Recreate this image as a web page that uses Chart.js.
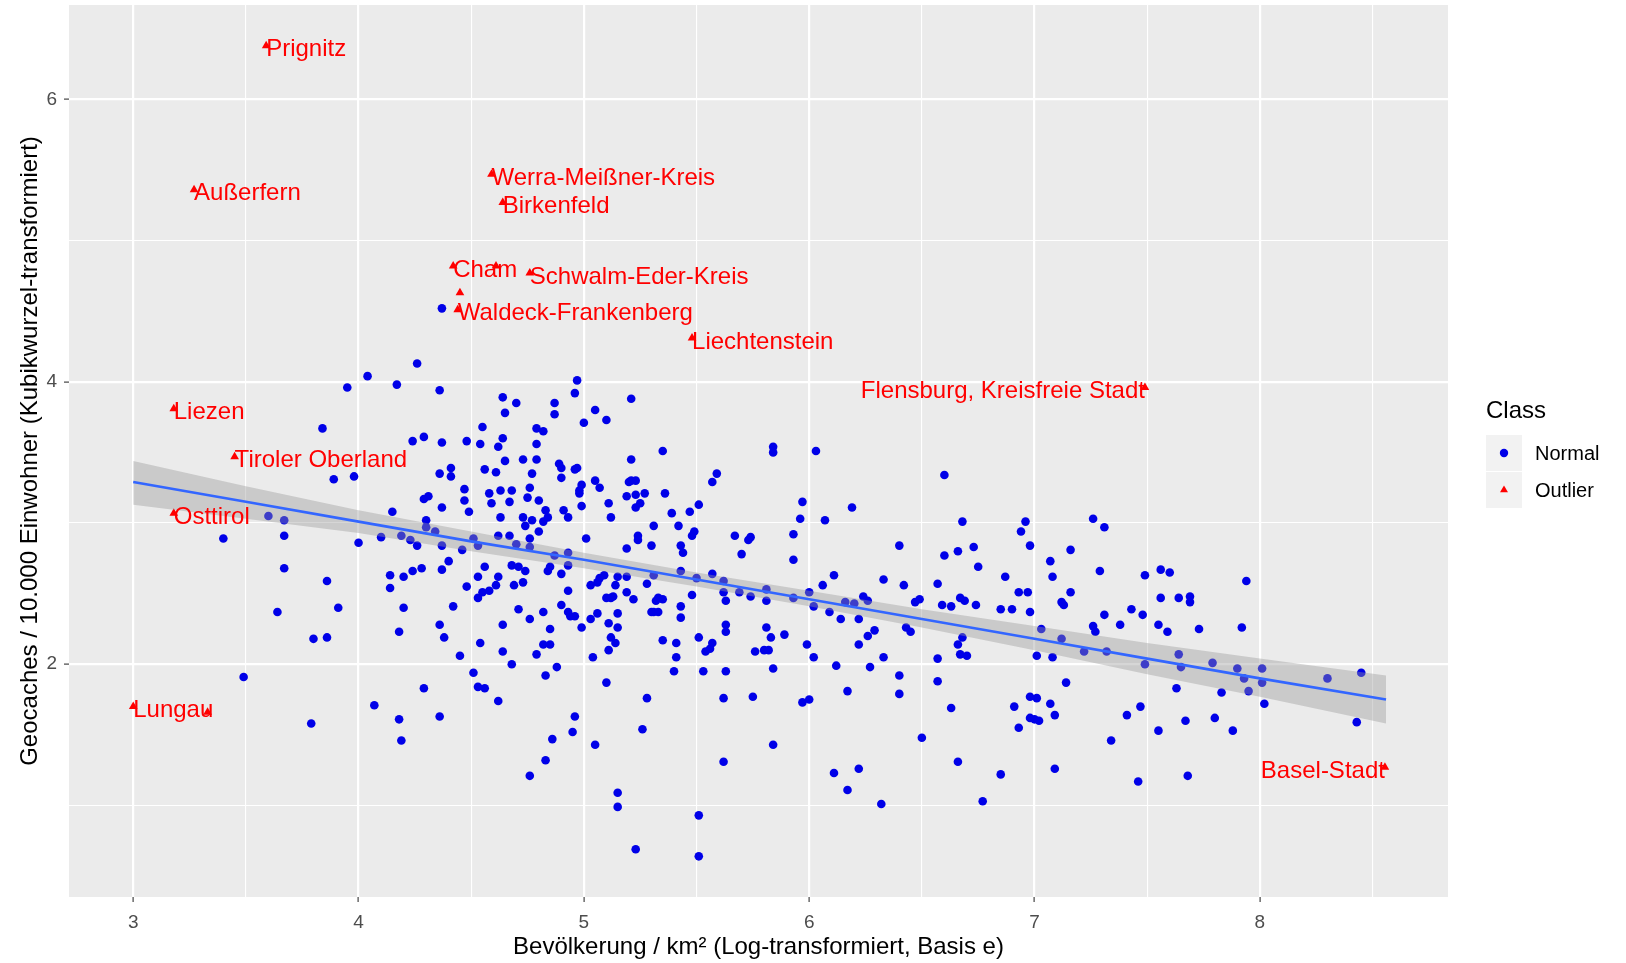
<!DOCTYPE html>
<html>
<head>
<meta charset="utf-8">
<script src="https://cdn.jsdelivr.net/npm/chart.js@4.4.1/dist/chart.umd.min.js"></script>
<style>
html,body{margin:0;padding:0;background:#ffffff;}
canvas{display:block;}
</style>
</head>
<body>
<canvas id="c" width="1626" height="963"></canvas>
<script>
// ---------- data ----------
const normalXY = [
[4.26,4.13],[4.04,4.04],[3.95,3.96],[4.17,3.98],[4.36,3.94],[3.84,3.67],[4.55,3.68],[4.24,3.58],[4.29,3.61],[4.37,3.57],
[4.48,3.58],[4.54,3.56],[4.62,3.54],[4.41,3.39],[4.41,3.33],[4.36,3.35],[4.56,3.38],[4.61,3.36],[3.89,3.31],[3.98,3.33],
[4.47,3.24],[4.58,3.21],[4.63,3.23],[4.29,3.17],[4.31,3.19],[4.47,3.16],[4.59,3.14],[4.37,3.11],[4.49,3.08],[4.15,3.08],
[4.63,3.04],[3.60,3.05],[3.67,3.02],[3.67,2.91],[3.40,2.89],[4.00,2.86],[4.10,2.90],[4.19,2.91],[4.23,2.88],[4.26,2.84],
[4.30,3.02],[4.30,2.97],[4.34,2.94],[4.37,2.84],[4.46,2.81],[4.51,2.89],[4.53,2.84],[4.62,2.91],[3.67,2.68],[3.86,2.59],
[4.14,2.63],[4.20,2.62],[4.24,2.66],[4.28,2.68],[4.37,2.67],[4.40,2.73],[4.14,2.54],[4.56,2.69],[4.53,2.62],[4.48,2.55],
[4.62,2.62],[4.61,2.56],[4.58,2.52],[4.55,2.51],[4.53,2.47],[3.64,2.37],[3.91,2.40],[4.20,2.40],[4.42,2.41],[3.80,2.18],
[3.86,2.19],[4.18,2.23],[4.36,2.28],[4.38,2.19],[4.54,2.15],[4.45,2.06],[3.49,1.91],[4.29,1.83],[4.51,1.94],[4.53,1.84],
[4.56,1.83],[4.62,1.74],[4.07,1.71],[3.79,1.58],[4.18,1.61],[4.36,1.63],[4.19,1.46],[4.37,4.52],
[4.97,4.01],[4.96,3.92],[5.21,3.88],[4.64,3.89],[4.70,3.85],[4.87,3.85],[4.87,3.77],[4.65,3.78],[5.05,3.80],[5.00,3.71],
[5.10,3.73],[4.79,3.67],[4.82,3.65],[4.64,3.60],[4.79,3.56],[5.35,3.51],[4.65,3.44],[4.73,3.45],[4.79,3.45],[5.21,3.45],
[4.89,3.42],[4.90,3.39],[4.90,3.32],[4.77,3.35],[4.97,3.39],[4.96,3.38],[5.05,3.30],[5.07,3.25],[4.99,3.27],[4.98,3.23],
[4.98,3.21],[4.68,3.23],[4.76,3.25],[4.75,3.18],[4.80,3.16],[4.67,3.15],[5.21,3.30],[5.23,3.30],[5.20,3.29],[5.19,3.19],
[5.23,3.20],[5.27,3.21],[5.36,3.21],[4.99,3.12],[5.11,3.14],[5.25,3.14],[5.23,3.11],[5.59,3.35],[5.57,3.29],[5.51,3.13],
[5.47,3.08],[5.39,3.07],[4.83,3.09],[4.91,3.09],[4.93,3.04],[4.84,3.04],[4.73,3.04],[4.77,3.02],[4.74,2.98],[4.82,3.01],
[4.80,2.94],[5.12,3.04],[5.31,2.98],[5.42,2.98],[4.67,2.91],[4.76,2.89],[5.01,2.89],[5.24,2.91],[5.24,2.88],[5.19,2.82],
[5.30,2.84],[5.48,2.91],[5.49,2.94],[5.43,2.84],[5.44,2.79],[4.70,2.85],[4.76,2.83],[4.87,2.77],[4.93,2.79],[4.93,2.70],
[4.85,2.69],[4.84,2.66],[4.90,2.64],[4.68,2.70],[4.71,2.69],[4.74,2.66],[4.69,2.56],[4.73,2.58],[5.03,2.56],[5.06,2.58],
[5.07,2.61],[5.09,2.63],[5.15,2.62],[5.19,2.62],[5.14,2.56],[4.93,2.52],[4.90,2.42],[4.93,2.37],[4.94,2.34],[4.96,2.34],
[4.99,2.26],[5.03,2.32],[5.06,2.36],[5.10,2.47],[5.12,2.47],[5.13,2.48],[5.19,2.51],[5.22,2.46],[5.15,2.36],[5.11,2.29],
[5.15,2.26],[5.12,2.19],[5.14,2.15],[5.11,2.10],[5.04,2.05],[4.82,2.37],[4.71,2.39],[4.76,2.32],[4.85,2.25],[4.82,2.14],
[4.85,2.14],[4.79,2.07],[4.64,2.09],[4.68,2.00],[4.64,2.28],[4.83,1.92],[4.88,1.98],[5.10,1.87],[5.28,2.57],[5.31,2.63],
[5.32,2.45],[5.33,2.47],[5.35,2.46],[5.30,2.37],[5.31,2.37],[5.33,2.37],[5.43,2.66],[5.43,2.41],[5.43,2.33],[5.50,2.61],
[5.48,2.49],[5.57,2.64],[5.62,2.59],[5.62,2.51],[5.63,2.45],[5.69,2.51],[5.74,2.48],[5.67,2.91],[5.73,2.88],[5.74,2.90],
[5.70,2.78],[5.84,3.54],[5.84,3.50],[6.03,3.51],[5.97,3.15],[5.96,3.03],[6.07,3.02],[5.93,2.92],[5.93,2.74],[6.19,3.11],
[6.11,2.63],[6.06,2.56],[6.00,2.51],[6.02,2.41],[6.09,2.37],[6.14,2.32],[6.16,2.44],[6.20,2.43],[6.22,2.32],[6.24,2.48],
[6.26,2.45],[5.93,2.47],[5.81,2.53],[5.81,2.45],[5.81,2.26],[5.83,2.19],[5.89,2.21],[5.63,2.28],[5.63,2.23],[5.51,2.19],
[5.54,2.09],[5.56,2.11],[5.57,2.15],[5.41,2.15],[5.41,2.05],[5.35,2.17],[5.40,1.95],[5.53,1.95],[5.63,1.95],[5.76,2.09],
[5.80,2.10],[5.82,2.10],[5.84,1.97],[5.99,2.14],[6.02,2.05],[6.12,1.99],[6.22,2.14],[6.26,2.20],[6.29,2.24],[6.27,1.98],
[5.28,1.76],[5.26,1.54],[5.62,1.76],[5.75,1.77],[5.97,1.73],[6.00,1.75],[6.17,1.81],[4.96,1.63],[4.95,1.52],[4.86,1.47],
[5.05,1.43],[4.83,1.32],[4.76,1.21],[5.15,1.09],[5.15,0.99],[5.23,0.69],[5.51,0.93],[5.51,0.64],[5.62,1.31],[5.84,1.43],
[6.11,1.23],[6.22,1.26],[6.17,1.11],[6.32,1.01],
[6.60,3.34],[6.68,3.01],[6.94,2.94],[6.96,3.01],[6.98,2.84],[7.26,3.03],[7.31,2.97],[6.40,2.84],[6.60,2.77],[6.66,2.80],
[6.73,2.83],[6.75,2.69],[7.16,2.81],[7.07,2.73],[7.08,2.62],[6.87,2.62],[7.29,2.66],[6.33,2.60],[6.42,2.56],[6.57,2.57],
[6.47,2.44],[6.49,2.46],[6.59,2.42],[6.63,2.41],[6.67,2.47],[6.69,2.45],[6.74,2.42],[6.85,2.39],[6.90,2.39],[6.93,2.51],
[6.97,2.51],[6.98,2.37],[7.16,2.51],[7.12,2.44],[7.13,2.42],[7.31,2.35],[7.38,2.28],[7.43,2.39],[7.48,2.35],[7.49,2.63],
[7.55,2.28],[7.26,2.27],[7.27,2.23],[6.43,2.26],[6.45,2.23],[6.68,2.19],[6.66,2.14],[6.67,2.07],[6.70,2.06],[6.33,2.05],
[6.57,2.04],[7.03,2.25],[7.12,2.18],[7.01,2.06],[7.08,2.05],[7.22,2.09],[7.32,2.09],[7.49,2.00],[6.40,1.92],[6.40,1.79],
[6.57,1.88],[6.63,1.69],[7.14,1.87],[6.98,1.77],[7.01,1.76],[7.07,1.72],[6.91,1.70],[6.98,1.62],[7.00,1.61],[7.02,1.60],
[7.09,1.64],[6.93,1.55],[7.41,1.64],[7.47,1.70],[7.34,1.46],[7.55,1.53],[6.50,1.48],[6.66,1.31],[6.85,1.22],[7.09,1.26],
[6.77,1.03],[7.46,1.17],
[7.56,2.67],[7.60,2.65],[7.94,2.59],[7.56,2.47],[7.64,2.47],[7.69,2.48],[7.69,2.44],[7.59,2.23],[7.73,2.25],[7.92,2.26],
[7.64,2.07],[7.65,1.98],[7.79,2.01],[7.90,1.97],[7.93,1.90],[7.95,1.81],[8.01,1.97],[8.01,1.87],[8.02,1.72],[7.83,1.80],
[7.63,1.83],[7.67,1.60],[7.80,1.62],[7.88,1.53],[8.30,1.90],[8.45,1.94],[8.43,1.59],[7.68,1.21]
];

const outlierNames = ['Prignitz','Außerfern','Werra-Meißner-Kreis','Birkenfeld','Cham','','Schwalm-Eder-Kreis','','Waldeck-Frankenberg','Liechtenstein','Flensburg, Kreisfreie Stadt','Liezen','Tiroler Oberland','Osttirol','Lungau','','Basel-Stadt'];
const outlierX = [3.59,3.27,4.59,4.64,4.42,4.61,4.76,4.45,4.44,5.48,7.49,3.18,3.45,3.18,3.00,3.33,8.555];
const outlierY = [6.38,5.36,5.47,5.27,4.82,4.82,4.77,4.63,4.51,4.31,3.96,3.81,3.47,3.07,1.70,1.66,1.27];

const fitX      = [3.00,3.50,4.00,4.50,5.00,5.50,6.00,6.50,7.00,7.50,8.00,8.56];
const fitY      = [3.29,3.15,3.01,2.87,2.74,2.60,2.46,2.32,2.18,2.04,1.90,1.75];
const bandUpper = [3.44,3.26,3.09,2.94,2.79,2.65,2.52,2.39,2.27,2.15,2.04,1.92];
const bandLower = [3.13,3.03,2.93,2.80,2.68,2.55,2.41,2.26,2.10,1.93,1.77,1.58];

const xTickLabels = [3,4,5,6,7,8];
const yTickLabels = [2,4,6];
const legendTitle = 'Class';
const legendItems = ['Normal','Outlier'];

// ---------- chart ----------
const FONT = '"Liberation Sans", Arial, Helvetica, sans-serif';
Chart.defaults.font.family = FONT;
const rightAnchored = new Set(['Flensburg, Kreisfreie Stadt','Basel-Stadt']);
const BLUE = '#0000E8';
const RED = '#FF0000';

const panelBg = {
  id:'panelBg',
  beforeDraw(chart){
    const {ctx, chartArea:{left,top,width,height}} = chart;
    ctx.save(); ctx.fillStyle = '#EBEBEB'; ctx.fillRect(left, top, width, height); ctx.restore();
  }
};

const outlierLabels = {
  id:'outlierLabels',
  afterDatasetsDraw(chart){
    const {ctx, scales:{x, y}} = chart;
    ctx.save();
    ctx.font = '24px ' + FONT;
    ctx.fillStyle = RED;
    ctx.textBaseline = 'middle';
    outlierNames.forEach((name, i) => {
      if (!name) return;
      ctx.textAlign = rightAnchored.has(name) ? 'right' : 'left';
      ctx.fillText(name, x.getPixelForValue(outlierX[i]), y.getPixelForValue(outlierY[i]) + 4);
    });
    ctx.restore();
  }
};

const customLegend = {
  id:'customLegend',
  afterDraw(chart){
    const {ctx, chartArea} = chart;
    const lx = chartArea.right + 38;
    ctx.save();
    ctx.fillStyle = '#000000';
    ctx.textBaseline = 'middle';
    ctx.textAlign = 'left';
    ctx.font = '24px ' + FONT;
    ctx.fillText(legendTitle, lx, 411);
    const styles = [{s:'circle', c:BLUE, r:4.2}, {s:'triangle', c:RED, r:4.6}];
    legendItems.forEach((lab, i) => {
      const ky = 435 + i * 37;
      ctx.fillStyle = '#F2F2F2';
      ctx.fillRect(lx, ky, 36, 36);
      ctx.fillStyle = styles[i].c;
      ctx.strokeStyle = styles[i].c;
      Chart.helpers.drawPoint(ctx, {pointStyle: styles[i].s, radius: styles[i].r, borderWidth: 0, rotation: 0}, lx + 18, ky + 18);
      ctx.fillStyle = '#000000';
      ctx.font = '20px ' + FONT;
      ctx.fillText(lab, lx + 49, ky + 19);
    });
    ctx.restore();
  }
};

function zeroPad(s){ s.paddingTop = 0; s.paddingBottom = 0; s.paddingLeft = 0; s.paddingRight = 0; }

new Chart(document.getElementById('c'), {
  type: 'scatter',
  data: {
    datasets: [
      { type:'line', label:'fit', data: fitX.map((v,i)=>({x:v, y:fitY[i]})),
        borderColor:'#3366FF', borderWidth:2.6, pointRadius:0, fill:false, tension:0, order:0 },
      { type:'line', label:'upper', data: fitX.map((v,i)=>({x:v, y:bandUpper[i]})),
        borderColor:'rgba(0,0,0,0)', borderWidth:0, pointRadius:0, fill:false, tension:0, order:1 },
      { type:'line', label:'lower', data: fitX.map((v,i)=>({x:v, y:bandLower[i]})),
        borderColor:'rgba(0,0,0,0)', borderWidth:0, pointRadius:0, fill:'-1', tension:0,
        backgroundColor:'rgba(153,153,153,0.4)', order:1 },
      { label:'Outlier', data: outlierX.map((v,i)=>({x:v, y:outlierY[i]})),
        pointStyle:'triangle', pointRadius:5, backgroundColor:RED, borderWidth:0, order:3 },
      { label:'Normal', data: normalXY.map(p=>({x:p[0], y:p[1]})),
        pointStyle:'circle', pointRadius:4.3, backgroundColor:BLUE, borderWidth:0, order:4 }
    ]
  },
  options: {
    responsive:false,
    animation:false,
    events:[],
    layout:{ padding:{ left:0, right:178, top:5, bottom:0 } },
    plugins:{ legend:{display:false}, tooltip:{enabled:false} },
    scales:{
      x:{
        type:'linear', min:2.715, max:8.835,
        afterFit(s){ s.height = 66; zeroPad(s); },
        border:{display:false},
        grid:{
          color:'#FFFFFF',
          lineWidth:(c)=> (c.tick && Number.isInteger(c.tick.value)) ? 2.2 : 1.1,
          drawTicks:true, tickLength:5, tickWidth:1.1,
          tickColor:(c)=> (c.tick && Number.isInteger(c.tick.value)) ? '#333333' : 'rgba(0,0,0,0)'
        },
        ticks:{
          stepSize:0.5, includeBounds:false, autoSkip:false, maxRotation:0, minRotation:0,
          padding:9, color:'#4D4D4D', font:{size:19, family:FONT},
          callback:(v)=> xTickLabels.includes(v) ? String(v) : ''
        },
        title:{ display:true, text:'Bevölkerung / km² (Log-transformiert, Basis e)', color:'#000000',
          font:{size:24, family:FONT}, padding:{top:0, bottom:1} }
      },
      y:{
        type:'linear', min:0.352, max:6.668,
        afterFit(s){ s.width = 69; zeroPad(s); },
        border:{display:false},
        grid:{
          color:'#FFFFFF',
          lineWidth:(c)=> (c.tick && c.tick.value % 2 === 0) ? 2.2 : 1.1,
          drawTicks:true, tickLength:5, tickWidth:1.1,
          tickColor:(c)=> (c.tick && c.tick.value % 2 === 0) ? '#333333' : 'rgba(0,0,0,0)'
        },
        ticks:{
          stepSize:1, includeBounds:false, autoSkip:false,
          padding:7, color:'#4D4D4D', font:{size:19, family:FONT},
          callback:(v)=> yTickLabels.includes(v) ? String(v) : ''
        },
        title:{ display:true, text:'Geocaches / 10.000 Einwohner (Kubikwurzel-transformiert)', color:'#000000',
          font:{size:24, family:FONT}, padding:{top:16, bottom:0} }
      }
    }
  },
  plugins:[panelBg, outlierLabels, customLegend]
});
</script>
</body>
</html>
